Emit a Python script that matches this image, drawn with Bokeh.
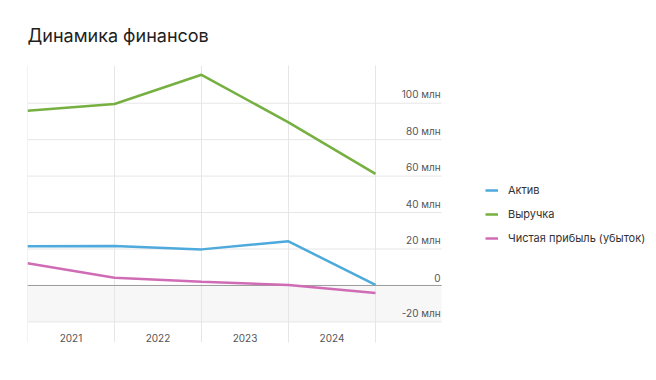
from bokeh.plotting import figure
from bokeh.models import (ColumnDataSource, Range1d, BoxAnnotation, Legend, LegendItem)
from bokeh.embed import file_html
from bokeh.resources import INLINE
from bokeh.core.properties import value

# ---- data ----
periods = [0, 1, 2, 3, 4]
aktiv = [21.5, 21.7, 19.8, 24.2, 0.3]
vyruchka = [95.9, 99.6, 115.6, 89.5, 61.2]
pribyl = [12.2, 4.2, 2.0, 0.2, -4.2]
year_labels = ["2021", "2022", "2023", "2024"]
y_ticks = [-20, 0, 20, 40, 60, 80, 100]
y_tick_labels = ["-20 млн", "0", "20 млн", "40 млн", "60 млн", "80 млн", "100 млн"]
series_names = ["Актив", "Выручка", "Чистая прибыль (убыток)"]
colors = ["#4ea9dc", "#76b041", "#d06cb6"]

FONT = "Inter"
X_END = 4.76          # right end of the chart grid area
X_MAX = 7.138         # frame continues to the canvas edge (legend area)
Y_START, Y_END = -31.3, 120.7

p = figure(width=648, height=372, output_backend="svg", toolbar_location=None,
           x_range=Range1d(0, X_MAX), y_range=Range1d(Y_START, Y_END),
           min_border_left=27, min_border_right=0, min_border_top=65,
           min_border_bottom=30, title="Динамика финансов")
p.outline_line_color = None
p.background_fill_color = "white"
p.border_fill_color = "white"
p.axis.visible = False
p.grid.visible = False

p.title.text_font = FONT
p.title.text_font_size = "18px"
p.title.text_font_style = "normal"
p.title.text_color = "#1e1e1e"
p.title.align = "left"
p.title.standoff = 39

band = BoxAnnotation(left=0, right=X_END, bottom=y_ticks[0], top=0, fill_color="#f7f7f7",
                     fill_alpha=1, line_color=None, level="underlay")
p.add_layout(band)

# grid lines
p.segment(x0=periods, x1=periods, y0=[Y_START] * len(periods), y1=[Y_END] * len(periods),
          line_color="#e6e6e6", line_width=1)
p.segment(x0=[0] * len(y_ticks), x1=[X_END] * len(y_ticks), y0=y_ticks, y1=y_ticks,
          line_color=["#9a9a9a" if t == 0 else "#e6e6e6" for t in y_ticks], line_width=1)

renderers = []
for vals, c in zip([aktiv, vyruchka, pribyl], colors):
    r = p.line(periods, vals, line_color=c, line_width=2.5)
    renderers.append(r)

# y tick labels (inside, right side above gridlines)
ysrc = ColumnDataSource(dict(x=[X_END] * len(y_ticks), y=y_ticks, t=y_tick_labels))
p.text(x="x", y="y", text="t", source=ysrc, text_align="right", text_baseline="bottom",
       x_offset=-1, y_offset=-3, text_font=value(FONT), text_font_size="10px",
       text_color="#555555")

# x labels centred between period gridlines
xsrc = ColumnDataSource(dict(x=[i + 0.5 for i in range(len(year_labels))],
                             y=[Y_START] * len(year_labels), t=year_labels))
p.text(x="x", y="y", text="t", source=xsrc, text_align="center", text_baseline="bottom",
       y_offset=-1, text_font=value(FONT), text_font_size="10px", text_color="#555555")

legend = Legend(items=[LegendItem(label=n, renderers=[r]) for n, r in zip(series_names, renderers)],
                location=(458, 94), border_line_color=None, background_fill_alpha=0,
                padding=0, margin=0, spacing=4, glyph_width=13, label_standoff=10,
                label_text_font=FONT, label_text_font_size="11px", label_text_color="#333333")
p.add_layout(legend)

open("out.html", "w").write(file_html(p, INLINE))
